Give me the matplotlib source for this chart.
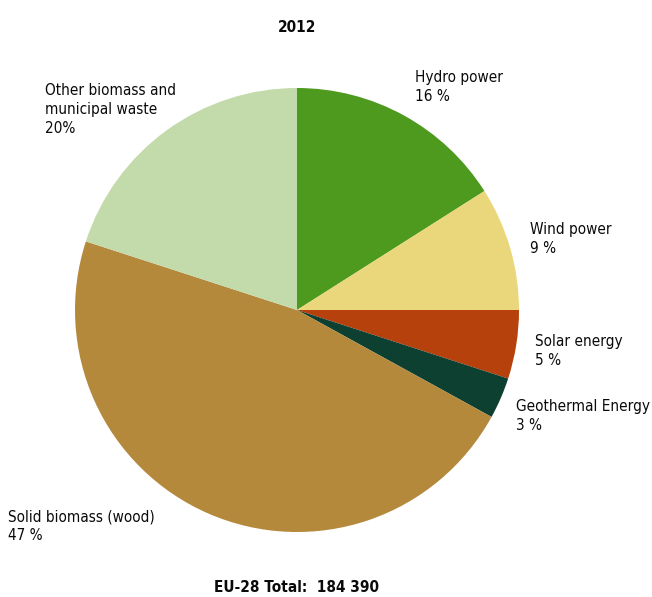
import matplotlib
matplotlib.use("Agg")
import matplotlib.pyplot as plt

labels = ["Hydro power", "Wind power", "Solar energy", "Geothermal Energy",
          "Solid biomass (wood)", "Other biomass and\nmunicipal waste"]
values = [16, 9, 5, 3, 47, 20]
pct_text = ["16 %", "9 %", "5 %", "3 %", "47 %", "20%"]
colors = ["#4e9a1f", "#ead77b", "#b6410c", "#0e4032", "#b5893c", "#c3dbab"]
title = "2012"
footer = "EU-28 Total:  184 390"

W, H = 652, 597
fig = plt.figure(figsize=(W / 100, H / 100), dpi=100)
fam = ["DejaVu Sans"]

cx, cy, r = 297, 310, 222
ax = fig.add_axes([(cx - r) / W, (H - cy - r) / H, 2 * r / W, 2 * r / H])
ax.pie(values, colors=colors, startangle=90, counterclock=False,
       wedgeprops=dict(linewidth=0))
ax.set_xlim(-1, 1)
ax.set_ylim(-1, 1)
ax.set_aspect("equal")
ax.axis("off")

def px(x, y):
    return x / W, 1 - y / H

# label positions (pixel, top-left of text block)
pos = [(415, 70), (530, 222), (535, 334), (516, 399), (8, 509), (45, 83)]
for lab, pt, (x, y) in zip(labels, pct_text, pos):
    fig.text(*px(x, y), lab + "\n" + pt, ha="left", va="top",
             fontsize=11, family=fam, stretch="condensed", color="#0a0a0a",
             linespacing=1.35)

fig.text(*px(297, 27), title, ha="center", va="center", fontsize=11,
         fontweight="bold", family=fam, stretch="condensed", color="#0a0a0a")
fig.text(*px(297, 587), footer, ha="center", va="center", fontsize=11,
         fontweight="bold", family=fam, stretch="condensed", color="#0a0a0a")

fig.savefig("out.png", dpi=100)
